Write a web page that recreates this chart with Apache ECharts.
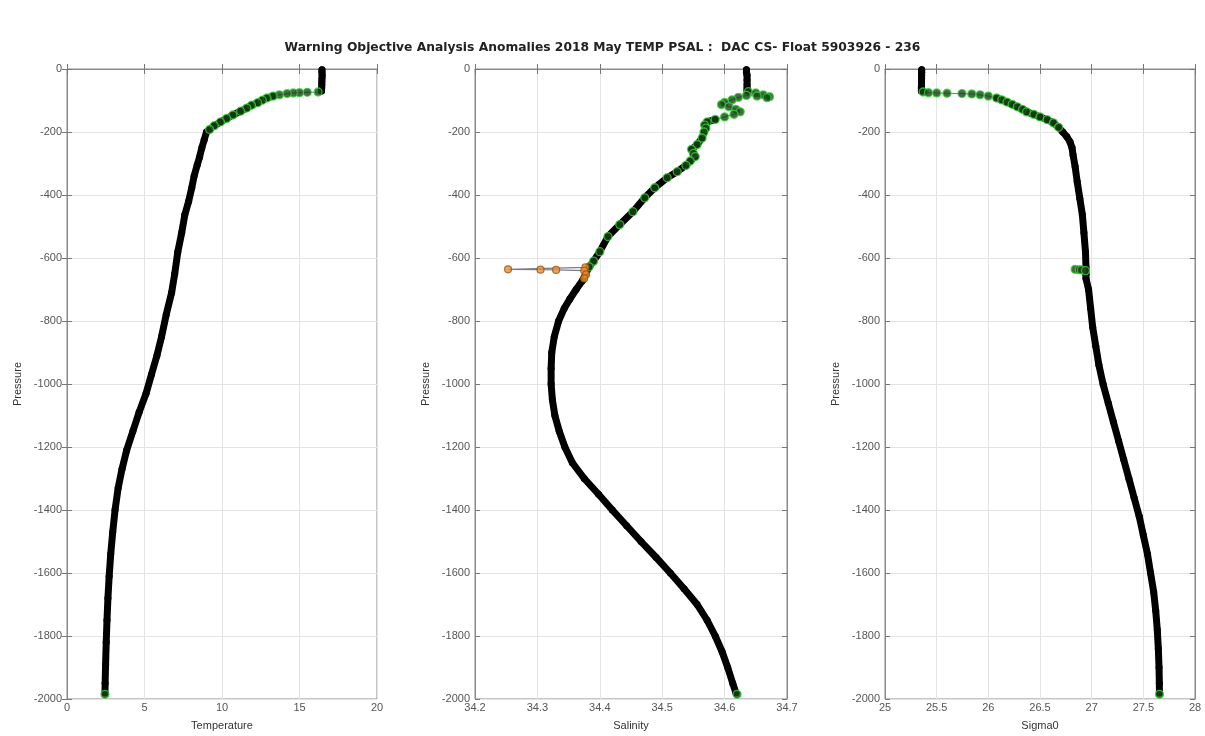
<!DOCTYPE html>
<html>
<head>
<meta charset="utf-8">
<script src="https://cdn.jsdelivr.net/npm/echarts@6/dist/echarts.min.js"></script>
<style>html,body{margin:0;padding:0;background:#fff}#c{width:1205px;height:736px}</style>
</head>
<body>
<div id="c"></div>
<script>
// ---------- DATA ----------
// flags: b = black point, g = green flagged point (thin line), k = green flagged point on thick dark band,
//        s = green spike point, o = orange point
var titleText = 'Warning Objective Analysis Anomalies 2018 May TEMP PSAL :  DAC CS- Float 5903926 - 236';

var tempValues = [16.45,16.45,16.46,16.45,16.44,16.44,16.43,16.42,
  16.2,15.5,15.0,14.6,14.2,13.7,13.3,12.9,12.6,12.3,11.9,11.6,11.2,10.7,10.3,9.9,9.5,9.2,
  9.0,8.85,8.7,8.55,8.4,8.2,8.05,7.85,7.6,7.4,7.15,6.95,6.75,6.4,6.1,5.8,5.45,5.1,4.65,4.25,3.85,3.55,3.3,3.1,2.95,2.82,2.72,2.64,2.58,2.53,2.49,2.46,2.45,
  2.45];
var tempPres = [-2,-10,-20,-30,-40,-50,-60,-70,
  -73,-74,-75,-76,-78,-82,-86,-92,-99,-107,-115,-124,-134,-146,-157,-168,-180,-192,
  -200,-225,-250,-280,-305,-340,-377,-420,-463,-520,-580,-650,-710,-780,-850,-910,-970,-1030,-1090,-1150,-1210,-1270,-1330,-1400,-1470,-1540,-1610,-1680,-1750,-1820,-1890,-1950,-1980,
  -1985];
var tempFlags = 'bbbbbbbb'+'gggggg'+'kkkkkkkkkkkk'+'bbbbbbbbbbbbbbbbbbbbbbbbbbbbbbbbb'+'g';

var psalValues = [34.635,34.635,34.636,34.636,34.636,34.636,34.636,
  34.638,34.65,34.662,34.672,34.668,34.652,34.635,34.622,34.612,34.6,34.595,34.607,34.618,34.625,34.615,34.6,
  34.585,34.572,34.568,34.57,34.567,34.564,34.556,34.547,34.55,34.553,34.545,34.538,34.524,34.508,34.488,34.472,34.453,34.432,34.413,34.4,34.39,34.383,
  34.377,34.253,34.305,34.33,34.375,34.378,34.375,
  34.372,34.362,34.352,34.343,34.334,34.327,34.323,34.322,34.322,34.324,34.328,34.335,34.344,34.356,34.375,34.398,34.42,34.443,34.466,34.49,34.513,34.535,34.556,34.572,34.585,34.596,34.605,34.613,34.618,
  34.62];
var psalPres = [-2,-10,-20,-35,-50,-60,-68,
  -72,-76,-82,-88,-91,-86,-84,-90,-98,-106,-113,-120,-128,-136,-144,-152,
  -160,-168,-178,-188,-200,-219,-240,-255,-268,-278,-292,-306,-326,-345,-377,-409,-453,-494,-532,-580,-610,-628,
  -630,-636,-637,-638,-640,-652,-665,
  -672,-700,-730,-760,-800,-850,-900,-950,-1000,-1050,-1100,-1150,-1200,-1250,-1300,-1350,-1400,-1450,-1500,-1550,-1600,-1650,-1700,-1750,-1800,-1850,-1900,-1950,-1980,
  -1985];
var psalFlags = 'bbbbbbb'+'gggggggggggggggg'+'kkkkkkkkkkkkkkkkkkkkkk'+'ooooooo'+'bbbbbbbbbbbbbbbbbbbbbbbbbbbbb'+'g';

var sigValues = [25.355,25.355,25.354,25.354,25.353,25.353,25.352,25.352,
  25.37,25.42,25.5,25.6,25.745,25.84,25.92,26.0,26.08,26.13,26.18,26.23,26.28,26.33,26.37,26.44,26.5,26.57,26.63,26.68,
  26.72,26.76,26.79,26.81,26.82,26.84,26.86,26.885,26.91,26.925,26.94,26.945,
  26.84,26.88,26.9,26.94,
  26.945,26.945,26.97,26.99,27.01,27.04,27.07,27.11,27.16,27.21,27.26,27.31,27.36,27.41,27.46,27.5,27.54,27.57,27.6,27.62,27.635,27.645,27.652,27.655,27.656,
  27.656];
var sigPres = [-2,-10,-20,-30,-40,-50,-60,-70,
  -73,-75,-76,-77,-78,-79,-82,-86,-92,-98,-105,-112,-120,-128,-136,-144,-152,-161,-171,-185,
  -200,-215,-231,-250,-273,-310,-358,-410,-463,-520,-580,-630,
  -636,-637,-638,-640,
  -652,-665,-700,-760,-820,-880,-940,-1000,-1060,-1120,-1180,-1240,-1300,-1360,-1420,-1480,-1540,-1600,-1660,-1720,-1780,-1840,-1900,-1950,-1980,
  -1985];
var sigFlags = 'bbbbbbbb'+'gggggggg'+'kkkkkkkkkkkk'+'bbbbbbbbbbbb'+'ssss'+'bbbbbbbbbbbbbbbbbbbbbbbbb'+'g';

var yTicks = [0,-200,-400,-600,-800,-1000,-1200,-1400,-1600,-1800,-2000];
var tempTicks = [0,5,10,15,20];
var psalTicks = [34.2,34.3,34.4,34.5,34.6,34.7];
var sigTicks = [25,25.5,26,26.5,27,27.5,28];

// ---------- BUILD ----------
var panels = [
  {name:'Temperature', v:tempValues, p:tempPres, f:tempFlags, ticks:tempTicks, left:67, right:828},
  {name:'Salinity', v:psalValues, p:psalPres, f:psalFlags, ticks:psalTicks, left:475, right:418},
  {name:'Sigma0', v:sigValues, p:sigPres, f:sigFlags, ticks:sigTicks, left:885, right:10}
];
var FONT = 'Liberation Sans, Arial, sans-serif';
var grids=[], xAxes=[], yAxes=[], series=[];
var ymin = yTicks[yTicks.length-1], ymax = yTicks[0], yiv = yTicks[0]-yTicks[1];
panels.forEach(function(P,i){
  grids.push({left:P.left, right:P.right, top:69, bottom:36, show:true, borderColor:'#8a8a8a', borderWidth:1, backgroundColor:'#fff'});
  var mn=P.ticks[0], mx=P.ticks[P.ticks.length-1], iv=+(P.ticks[1]-P.ticks[0]).toFixed(3);
  var fmt=function(v){return String(+(+v).toFixed(2));};
  xAxes.push({type:'value', gridIndex:i, position:'bottom', min:mn, max:mx, interval:iv,
    name:P.name, nameLocation:'middle', nameGap:21, nameTextStyle:{fontFamily:FONT,fontSize:11,color:'#333'},
    axisLine:{show:true,lineStyle:{color:'#8a8a8a'}}, axisTick:{show:true,inside:true,length:5,lineStyle:{color:'#777'}},
    axisLabel:{fontFamily:FONT,fontSize:11,color:'#555',margin:3,formatter:fmt},
    splitLine:{show:true,lineStyle:{color:'#e4e4e4',width:1}}});
  xAxes.push({type:'value', gridIndex:i, position:'top', min:mn, max:mx, interval:iv,
    axisLine:{show:true,lineStyle:{color:'#8a8a8a'}}, axisTick:{show:true,inside:true,length:5,lineStyle:{color:'#777'}},
    axisLabel:{show:false}, splitLine:{show:false}});
  yAxes.push({type:'value', gridIndex:i, position:'left', min:ymin, max:ymax, interval:yiv,
    name:'Pressure', nameLocation:'middle', nameGap:44, nameRotate:90, nameTextStyle:{fontFamily:FONT,fontSize:11,color:'#333'},
    axisLine:{show:true,lineStyle:{color:'#8a8a8a'}}, axisTick:{show:true,inside:true,length:5,lineStyle:{color:'#777'}},
    axisLabel:{fontFamily:FONT,fontSize:11,color:'#555',margin:5,formatter:function(v){return String(v);}},
    splitLine:{show:true,lineStyle:{color:'#e4e4e4',width:1}}});
  yAxes.push({type:'value', gridIndex:i, position:'right', min:ymin, max:ymax, interval:yiv,
    axisLine:{show:true,lineStyle:{color:'#8a8a8a'}}, axisTick:{show:true,inside:true,length:5,lineStyle:{color:'#777'}},
    axisLabel:{show:false}, splitLine:{show:false}});
  var all=[], green=[], orange=[], runs=[], cur=[];
  for(var k=0;k<P.v.length;k++){
    var pt=[P.v[k],P.p[k]], fl=P.f.charAt(k);
    all.push(pt);
    if(fl==='b'){cur.push(pt);}
    else if(fl==='k'){cur.push(pt); green.push(pt);}
    else if(fl==='g'){ if(cur.length){runs.push(cur);cur=[];} green.push(pt);}
    else if(fl==='s'){ green.push(pt);}
    else if(fl==='o'){ orange.push(pt);}
  }
  if(cur.length) runs.push(cur);
  var xi=2*i, yi=2*i;
  series.push({type:'line', xAxisIndex:xi, yAxisIndex:yi, data:all, showSymbol:false, symbol:'none', silent:true, animation:false,
    lineStyle:{color:'#7a7a8a', width:1.2}, z:2});
  runs.forEach(function(r){
    series.push({type:'line', xAxisIndex:xi, yAxisIndex:yi, data:r, symbol:'circle', symbolSize:7, showSymbol:true, showAllSymbol:true, silent:true, animation:false,
      itemStyle:{color:'#000'}, lineStyle:{color:'#000', width:7, cap:'round', join:'round'}, z:3});
  });
  series.push({type:'scatter', xAxisIndex:xi, yAxisIndex:yi, data:green, symbol:'circle', symbolSize:8, silent:true, animation:false,
    itemStyle:{color:'#1a421a', borderColor:'#2fd62f', borderWidth:1.3}, z:4});
  if(orange.length) series.push({type:'scatter', xAxisIndex:xi, yAxisIndex:yi, data:orange, symbol:'circle', symbolSize:7, silent:true, animation:false,
    itemStyle:{color:'#f0902a', borderColor:'#9a5414', borderWidth:1.2}, z:5});
});

var chart = echarts.init(document.getElementById('c'), null, {renderer:'canvas'});
chart.setOption({
  animation:false,
  backgroundColor:'#fff',
  title:{text:titleText, left:'center', top:37, textStyle:{fontFamily:'DejaVu Sans, sans-serif',fontSize:12.3,fontWeight:'bold',color:'#222'}},
  grid:grids, xAxis:xAxes, yAxis:yAxes, series:series
});
</script>
</body>
</html>
